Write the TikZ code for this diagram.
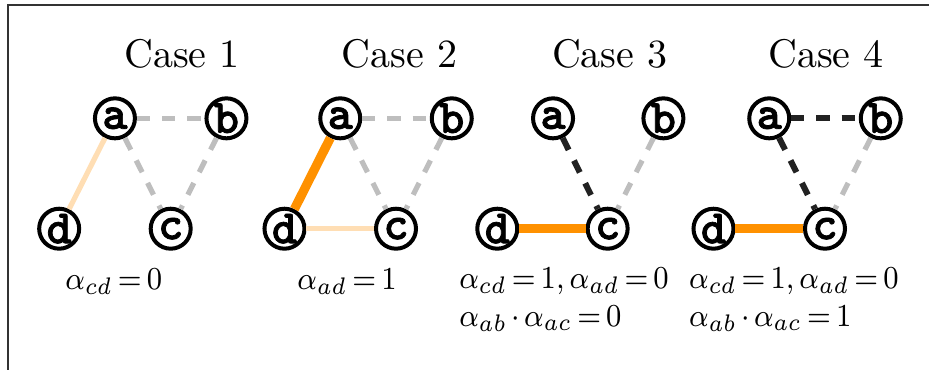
\documentclass[tikz,border=0pt]{standalone}
\usepackage{amsmath}
\usepackage{fontspec}
\usepackage{tikz}
\usetikzlibrary{positioning}
\newfontfamily\vtxfont{lmmonolt10-bold.otf}[FakeBold=1.5]
\definecolor{edgegray}{RGB}{190,190,190}
\definecolor{paleorange}{RGB}{255,222,180}
\definecolor{hotorange}{RGB}{255,145,0}
\definecolor{inkdark}{RGB}{34,34,34}
\newcommand{\tightmath}{\thickmuskip=3mu\relax\medmuskip=2.5mu\relax}
\tikzset{
  vtx/.style={circle,draw,line width=1pt,fill=white,inner sep=0pt,minimum size=10pt,font=\vtxfont\fontsize{12}{12}\selectfont},
  open/.style={edgegray,line width=1.3pt,dash pattern=on 3.3pt off 3pt},
  shut/.style={inkdark,line width=1.5pt,dash pattern=on 3.3pt off 3pt},
  weak/.style={paleorange,line width=1.3pt},
  strong/.style={hotorange,line width=2.3pt},
  casetitle/.style={anchor=base,font=\normalsize},
  cond/.style={anchor=base,font=\footnotesize\tightmath,inner sep=0pt,xscale=0.9,transform shape},
}
\begin{document}
\begin{tikzpicture}
  \useasboundingbox (0,0) rectangle (8.164,-3.251);
  \draw[black!80,line width=0.5pt] (0.07,-4) |- (9,-0.044);

  % case 1
  \node[casetitle] (t1) at (1.60,-0.59) {Case 1};
  \node[vtx] (a1) at (1.01,-1.04) {a};
  \node[vtx] (b1) at (1.99,-1.04) {b};
  \node[vtx] (d1) at (0.52,-2.01) {d};
  \node[vtx] (c1) at (1.50,-2.01) {c};
  \draw[open] (a1) -- (b1);
  \draw[open] (a1) -- (c1);
  \draw[open] (b1) -- (c1);
  \draw[weak] (a1) -- (d1);
  \node[cond] (l1) at (1.00,-2.54) {$\alpha_{cd}=0$};

  % case 2
  \node[casetitle] (t2) at (3.51,-0.59) {Case 2};
  \node[vtx] (a2) at (2.99,-1.04) {a};
  \node[vtx] (b2) at (3.97,-1.04) {b};
  \node[vtx] (d2) at (2.50,-2.01) {d};
  \node[vtx] (c2) at (3.48,-2.01) {c};
  \draw[open] (a2) -- (b2);
  \draw[open] (a2) -- (c2);
  \draw[open] (b2) -- (c2);
  \draw[strong] (a2) -- (d2);
  \draw[weak] (d2) -- (c2);
  \node[cond] (l2) at (3.05,-2.54) {$\alpha_{ad}=1$};

  % case 3
  \node[casetitle] (t3) at (5.36,-0.59) {Case 3};
  \node[vtx] (a3) at (4.86,-1.04) {a};
  \node[vtx] (b3) at (5.83,-1.04) {b};
  \node[vtx] (d3) at (4.37,-2.01) {d};
  \node[vtx] (c3) at (5.34,-2.01) {c};
  \draw[shut] (a3) -- (c3);
  \draw[open] (b3) -- (c3);
  \draw[strong] (d3) -- (c3);
  \node[cond,anchor=base west,align=left] (l3) at (4.03,-2.865)
    {$\alpha_{cd}=1,\alpha_{ad}=0$\\$\alpha_{ab}\cdot\alpha_{ac}=0$};

  % case 4
  \node[casetitle] (t4) at (7.26,-0.59) {Case 4};
  \node[vtx] (a4) at (6.76,-1.04) {a};
  \node[vtx] (b4) at (7.74,-1.04) {b};
  \node[vtx] (d4) at (6.27,-2.01) {d};
  \node[vtx] (c4) at (7.25,-2.01) {c};
  \draw[shut] (a4) -- (b4);
  \draw[shut] (a4) -- (c4);
  \draw[open] (b4) -- (c4);
  \draw[strong] (d4) -- (c4);
  \node[cond,anchor=base west,align=left] (l4) at (6.05,-2.865)
    {$\alpha_{cd}=1,\alpha_{ad}=0$\\$\alpha_{ab}\cdot\alpha_{ac}=1$};
\end{tikzpicture}
\end{document}
